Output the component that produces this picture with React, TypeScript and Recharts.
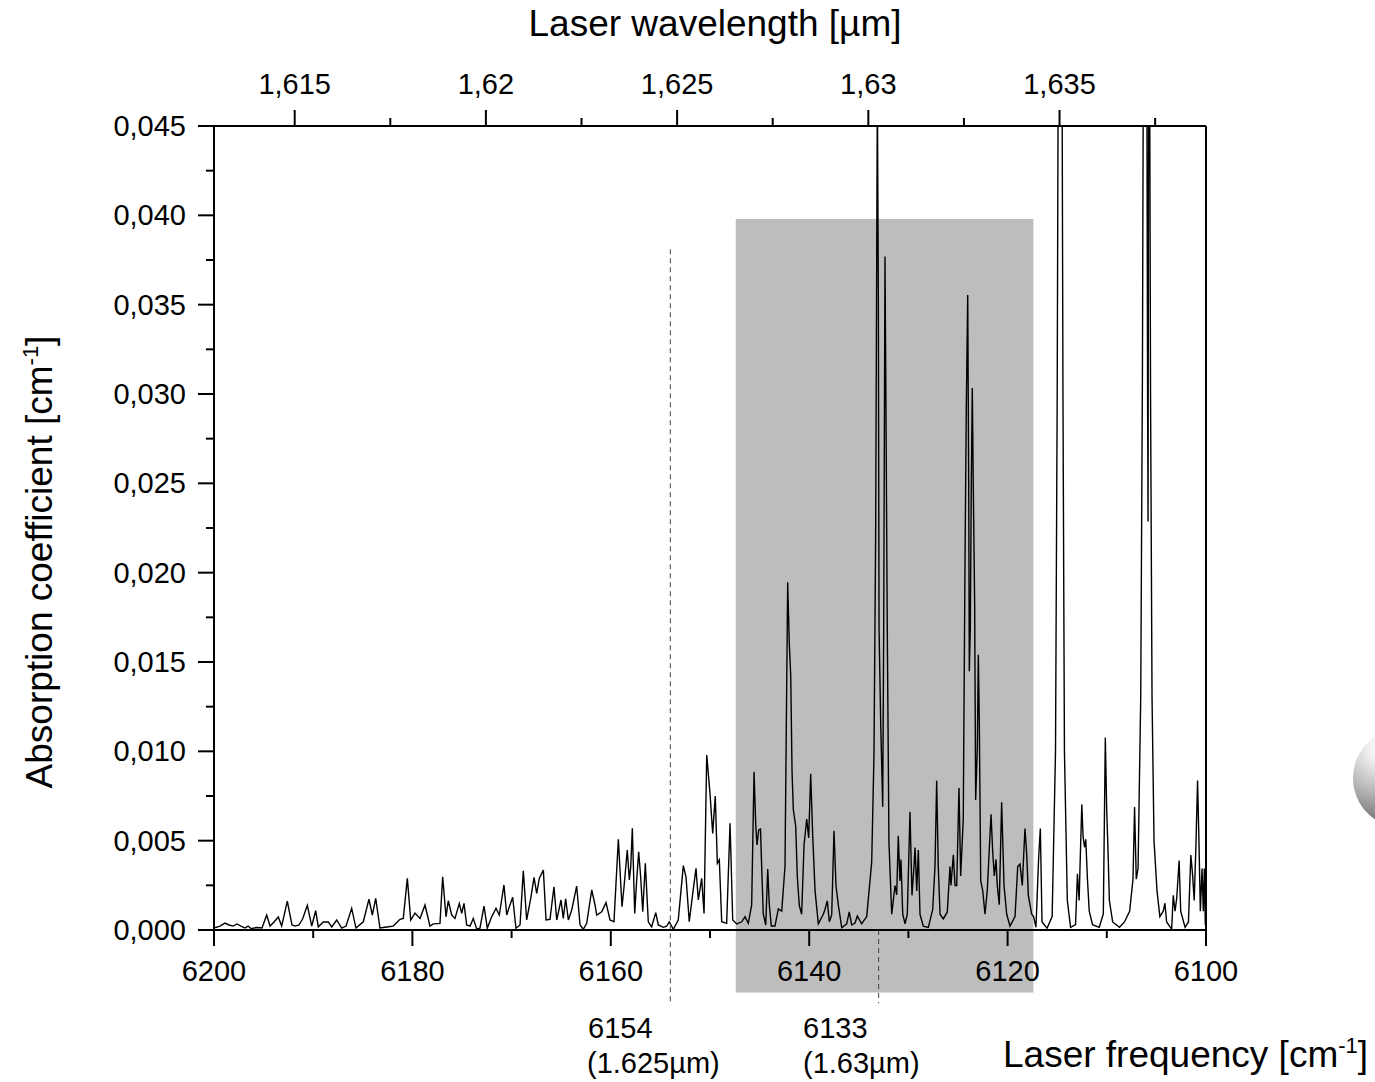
import React from 'react';
import { LineChart, Line, XAxis, YAxis, ReferenceArea, ReferenceLine } from 'recharts';

// ---- data (frequency in cm^-1, absorption in 1e-3 cm^-1) ----
const freqCm = [
  6200.00, 6199.40, 6198.89, 6198.49, 6198.08, 6197.68, 6197.28, 6196.88, 6196.57, 6196.27,
  6195.67, 6195.16, 6194.69, 6194.35, 6193.95, 6193.52, 6193.18, 6192.61, 6192.14, 6191.83,
  6191.43, 6191.06, 6190.59, 6190.15, 6189.75, 6189.49, 6188.98, 6188.48, 6188.13, 6187.63,
  6187.13, 6186.69, 6186.12, 6185.69, 6184.95, 6184.38, 6184.04, 6183.70, 6183.27, 6182.59,
  6181.93, 6181.25, 6180.92, 6180.51, 6180.17, 6179.74, 6179.23, 6178.73, 6178.23, 6177.89,
  6177.22, 6176.95, 6176.61, 6176.38, 6176.04, 6175.71, 6175.27, 6175.03, 6174.80, 6174.53,
  6174.19, 6173.86, 6173.52, 6173.19, 6172.78, 6172.45, 6172.01, 6171.57, 6171.24, 6170.77,
  6170.49, 6170.23, 6169.89, 6169.56, 6169.15, 6168.82, 6168.48, 6168.07, 6167.74, 6167.47,
  6167.21, 6166.80, 6166.53, 6166.13, 6165.73, 6165.45, 6165.02, 6164.79, 6164.55, 6164.28,
  6163.94, 6163.44, 6163.10, 6162.77, 6162.43, 6161.92, 6161.59, 6161.42, 6160.92, 6160.48,
  6160.08, 6159.68, 6159.24, 6158.87, 6158.67, 6158.34, 6158.13, 6157.99, 6157.83, 6157.59,
  6157.39, 6157.19, 6156.99, 6156.78, 6156.52, 6156.22, 6155.88, 6155.47, 6155.21, 6154.71,
  6154.37, 6154.10, 6153.70, 6153.20, 6152.69, 6152.42, 6152.09, 6151.74, 6151.41, 6151.18,
  6150.84, 6150.60, 6150.33, 6150.00, 6149.73, 6149.47, 6149.26, 6149.06, 6148.82, 6148.32,
  6147.98, 6147.71, 6147.31, 6146.80, 6146.47, 6146.14, 6145.80, 6145.56, 6145.39, 6145.26,
  6145.09, 6144.91, 6144.78, 6144.63, 6144.38, 6144.18, 6144.02, 6143.82, 6143.45, 6143.11,
  6142.77, 6142.44, 6142.17, 6142.01, 6141.86, 6141.73, 6141.60, 6141.36, 6141.20, 6141.00,
  6140.76, 6140.52, 6140.25, 6140.05, 6139.85, 6139.65, 6139.41, 6139.08, 6138.58, 6138.41,
  6138.18, 6137.97, 6137.73, 6137.50, 6137.30, 6137.07, 6136.72, 6136.22, 6135.96, 6135.72,
  6135.38, 6135.15, 6134.71, 6134.20, 6133.70, 6133.47, 6133.30, 6133.13, 6133.03, 6132.96,
  6132.79, 6132.59, 6132.49, 6132.36, 6132.26, 6132.13, 6131.96, 6131.68, 6131.35, 6131.18,
  6131.02, 6130.85, 6130.75, 6130.57, 6130.34, 6130.11, 6129.84, 6129.64, 6129.44, 6129.33,
  6129.16, 6129.00, 6128.83, 6128.50, 6127.99, 6127.55, 6127.32, 6127.15, 6126.99, 6126.81,
  6126.48, 6126.08, 6125.81, 6125.71, 6125.47, 6125.30, 6125.13, 6124.90, 6124.73, 6124.47,
  6124.29, 6124.16, 6124.02, 6123.92, 6123.86, 6123.76, 6123.66, 6123.56, 6123.46, 6123.32,
  6123.22, 6123.05, 6122.95, 6122.85, 6122.71, 6122.51, 6122.28, 6122.05, 6121.88, 6121.67,
  6121.50, 6121.34, 6121.17, 6121.04, 6120.84, 6120.60, 6120.36, 6120.09, 6119.76, 6119.25,
  6118.98, 6118.75, 6118.52, 6118.25, 6118.07, 6117.91, 6117.57, 6117.38, 6117.14, 6116.87,
  6116.70, 6116.53, 6116.02, 6115.51, 6115.17, 6115.00, 6114.89, 6114.52, 6114.42, 6114.27,
  6113.98, 6113.65, 6113.15, 6112.96, 6112.79, 6112.69, 6112.52, 6112.39, 6112.25, 6112.12,
  6111.95, 6111.77, 6111.44, 6110.76, 6110.35, 6110.15, 6110.01, 6109.88, 6109.74, 6109.41,
  6108.72, 6108.22, 6107.70, 6107.36, 6107.20, 6107.03, 6106.85, 6106.58, 6106.41, 6106.31,
  6105.97, 6105.89, 6105.84, 6105.78, 6105.69, 6105.59, 6105.44, 6105.24, 6104.94, 6104.65,
  6104.31, 6104.14, 6103.97, 6103.46, 6103.30, 6103.12, 6102.95, 6102.71, 6102.55, 6102.11,
  6101.77, 6101.53, 6101.36, 6101.19, 6101.02, 6100.85, 6100.72, 6100.57, 6100.40, 6100.27,
  6100.17, 6100.07, 6100.00,
];

const absorptionE3 = [
  0.11, 0.22, 0.39, 0.28, 0.22, 0.34, 0.22, 0.11, 0.22, 0.08,
  0.14, 0.11, 0.84, 0.22, 0.45, 0.73, 0.22, 1.62, 0.28, 0.22,
  0.28, 0.63, 1.38, 0.22, 1.08, 0.18, 0.45, 0.45, 0.17, 0.56,
  0.11, 0.22, 1.21, 0.11, 0.46, 1.72, 0.84, 1.77, 0.11, 0.17,
  0.22, 0.60, 0.65, 2.89, 0.56, 0.95, 0.65, 1.40, 0.22, 0.34,
  0.37, 2.98, 0.74, 1.64, 0.84, 0.65, 1.49, 0.93, 1.49, 0.28,
  0.22, 0.65, 0.06, 0.10, 1.34, 0.10, 0.74, 1.21, 0.84, 2.52,
  0.84, 1.30, 1.83, 0.10, 0.28, 3.32, 0.56, 1.77, 2.95, 2.05,
  2.89, 3.36, 0.56, 0.60, 2.42, 0.56, 1.68, 0.65, 1.75, 0.56,
  1.12, 2.46, 0.28, 0.04, 0.37, 2.24, 1.40, 0.84, 1.02, 1.53,
  0.56, 0.46, 5.08, 1.30, 2.39, 4.48, 2.80, 3.54, 5.69, 0.93,
  2.80, 4.38, 2.98, 1.02, 3.73, 0.46, 0.18, 0.97, 0.28, 0.15,
  0.22, 0.46, 0.04, 0.56, 3.60, 2.98, 0.46, 2.05, 3.45, 1.68,
  2.89, 0.93, 9.79, 7.65, 5.41, 7.50, 3.73, 3.92, 0.46, 0.37,
  5.97, 0.56, 0.34, 0.46, 0.74, 0.37, 1.40, 8.86, 5.88, 4.76,
  5.60, 5.65, 3.36, 0.90, 0.28, 3.41, 1.40, 0.22, 0.22, 1.18,
  1.06, 3.55, 19.46, 16.07, 14.20, 8.87, 6.74, 5.82, 2.99, 1.38,
  0.88, 4.76, 6.21, 5.15, 8.75, 5.32, 2.19, 0.34, 0.88, 1.15,
  1.63, 0.46, 0.86, 5.55, 2.49, 1.42, 0.13, 0.35, 1.02, 0.28,
  0.39, 0.78, 0.35, 0.75, 3.81, 9.81, 22.22, 47.00, 35.50, 16.90,
  11.55, 6.90, 16.90, 37.70, 29.10, 16.90, 4.88, 0.88, 2.49, 1.96,
  5.28, 2.75, 3.95, 0.88, 0.35, 0.88, 6.62, 1.94, 3.55, 4.62,
  2.19, 4.48, 0.88, 0.22, 0.14, 1.15, 3.55, 8.35, 3.55, 0.88,
  0.62, 1.01, 3.55, 2.49, 4.21, 2.49, 2.49, 7.95, 3.02, 6.21,
  20.88, 29.40, 35.54, 24.87, 14.48, 16.87, 24.87, 30.34, 24.87, 18.21,
  7.28, 10.21, 15.41, 11.55, 2.75, 2.22, 0.88, 2.22, 4.14, 6.48,
  4.35, 3.02, 3.95, 2.49, 1.42, 7.15, 2.49, 0.88, 0.22, 0.75,
  3.55, 3.69, 2.49, 5.68, 4.21, 1.94, 0.88, 0.75, 0.15, 4.04,
  5.68, 0.45, 0.10, 0.75, 10.00, 30.00, 50.00, 50.00, 30.00, 10.00,
  1.65, 0.15, 0.30, 3.14, 1.65, 3.74, 7.03, 5.23, 4.63, 5.08,
  2.84, 1.05, 0.30, 0.15, 0.90, 10.77, 6.73, 4.49, 1.65, 0.45,
  0.15, 0.45, 1.05, 2.84, 6.88, 2.84, 3.44, 13.01, 30.95, 50.00,
  50.00, 30.00, 22.87, 50.00, 50.00, 30.00, 13.00, 5.00, 2.20, 0.75,
  1.05, 1.50, 0.45, 0.05, 1.94, 1.05, 1.79, 3.89, 1.05, 0.15,
  0.45, 4.19, 3.14, 1.65, 4.63, 8.37, 5.23, 1.05, 3.44, 1.05,
  3.44, 0.30, 0.60,
];

// ---- axes ----
const freqDomain = [6100, 6200];
const freqMajorTicks = [6200, 6180, 6160, 6140, 6120, 6100];
const freqMajorLabels = ['6200', '6180', '6160', '6140', '6120', '6100'];
const freqMinorTicks = [6190, 6170, 6150, 6130, 6110];

const absDomain = [0, 0.045];
const absMajorTicks = [0, 0.005, 0.01, 0.015, 0.02, 0.025, 0.03, 0.035, 0.04, 0.045];
const absMajorLabels = ['0,000', '0,005', '0,010', '0,015', '0,020', '0,025', '0,030', '0,035', '0,040', '0,045'];
const absMinorTicks = [0.0025, 0.0075, 0.0125, 0.0175, 0.0225, 0.0275, 0.0325, 0.0375, 0.0425];

// top axis: linear wavelength scale spanning the plot (as drawn in the reference)
const wlRange = [1.61289, 1.63883];
const wlMajorTicks = [1.615, 1.62, 1.625, 1.63, 1.635];
const wlMajorLabels = ['1,615', '1,62', '1,625', '1,63', '1,635'];
const wlMinorTicks = [1.6175, 1.6225, 1.6275, 1.6325, 1.6375];

// ---- annotations ----
const shadedBand = { fromCm: 6147.4, toCm: 6117.4, top: 0.0398, bottom: -0.0035 };
const markerLines = [
  { cm: 6154, top: 0.0381, label: '6154', sub: '(1.625µm)' },
  { cm: 6133, top: 0.0, label: '6133', sub: '(1.63µm)' },
];
const markerBottom = -0.0041;

const data = freqCm.map((f, i) => ({ f, a: absorptionE3[i] / 1000 }));

// place a wavelength tick on the shared (frequency) plot width
const wlToAxis = (w: number) =>
  freqDomain[1] - ((w - wlRange[0]) / (wlRange[1] - wlRange[0])) * (freqDomain[1] - freqDomain[0]);
const wlMajorPos = wlMajorTicks.map(wlToAxis);
const wlMinorPos = wlMinorTicks.map(wlToAxis);

const FONT = "'Liberation Sans', Arial, Helvetica, sans-serif";
const W = 1375;
const H = 1082;

const findIdx = (arr: number[], v: number) => arr.findIndex((t) => Math.abs(t - v) < 1e-6);

const BottomTick = (props: any) => {
  const { x, y, payload } = props;
  const idx = findIdx(freqMajorTicks, payload.value);
  const major = idx >= 0;
  return (
    <g>
      <line x1={x} x2={x} y1={y} y2={y + (major ? 16 : 8)} stroke="#000" strokeWidth={2} />
      {major && (
        <text x={x} y={y + 51} textAnchor="middle" fontSize={29} fontFamily={FONT} fill="#000">
          {freqMajorLabels[idx]}
        </text>
      )}
    </g>
  );
};

const TopTick = (props: any) => {
  const { x, y, payload } = props;
  const idx = findIdx(wlMajorPos, payload.value);
  const major = idx >= 0;
  return (
    <g>
      <line x1={x} x2={x} y1={y} y2={y - (major ? 16 : 8)} stroke="#000" strokeWidth={2} />
      {major && (
        <text x={x} y={y - 32} textAnchor="middle" fontSize={29} fontFamily={FONT} fill="#000">
          {wlMajorLabels[idx]}
        </text>
      )}
    </g>
  );
};

const LeftTick = (props: any) => {
  const { x, y, payload } = props;
  const idx = findIdx(absMajorTicks, payload.value);
  const major = idx >= 0;
  return (
    <g>
      <line x1={x} x2={x - (major ? 16 : 8)} y1={y} y2={y} stroke="#000" strokeWidth={2} />
      {major && (
        <text x={x - 28} y={y + 10} textAnchor="end" fontSize={29} fontFamily={FONT} fill="#000">
          {absMajorLabels[idx]}
        </text>
      )}
    </g>
  );
};

const sortNum = (a: number[]) => [...a].sort((p, q) => p - q);

export default function App() {
  return (
    <div style={{ position: 'fixed', left: 0, top: 0, width: W, height: H, overflow: 'hidden', background: '#fff' }}>
      <LineChart width={W} height={H} data={data} margin={{ top: 76, right: 169, bottom: 102, left: 114 }}>
        <ReferenceArea
          x1={shadedBand.fromCm}
          x2={shadedBand.toCm}
          y1={shadedBand.bottom}
          y2={shadedBand.top}
          ifOverflow="visible"
          fill="#bdbdbd"
          fillOpacity={1}
          stroke="none"
        />
        <XAxis
          dataKey="f"
          type="number"
          domain={freqDomain}
          reversed
          allowDataOverflow
          ticks={sortNum([...freqMajorTicks, ...freqMinorTicks])}
          interval={0}
          tickSize={0}
          tickMargin={0}
          tickLine={false}
          tick={<BottomTick />}
          axisLine={{ stroke: '#000', strokeWidth: 2 }}
          height={50}
        />
        <XAxis
          xAxisId="wl"
          dataKey="f"
          orientation="top"
          type="number"
          domain={freqDomain}
          reversed
          allowDataOverflow
          ticks={sortNum([...wlMajorPos, ...wlMinorPos])}
          interval={0}
          tickSize={0}
          tickMargin={0}
          tickLine={false}
          tick={<TopTick />}
          axisLine={{ stroke: '#000', strokeWidth: 2 }}
          height={50}
        />
        <YAxis
          type="number"
          domain={absDomain}
          allowDataOverflow
          ticks={sortNum([...absMajorTicks, ...absMinorTicks])}
          interval={0}
          tickSize={0}
          tickMargin={0}
          tickLine={false}
          tick={<LeftTick />}
          axisLine={{ stroke: '#000', strokeWidth: 2 }}
          width={100}
        />
        <Line
          type="linear"
          dataKey="a"
          stroke="#000"
          strokeWidth={1.4}
          dot={false}
          activeDot={false}
          isAnimationActive={false}
        />
        {markerLines.map((m) => (
          <ReferenceLine
            key={m.cm}
            segment={[{ x: m.cm, y: m.top }, { x: m.cm, y: markerBottom }]}
            ifOverflow="visible"
            stroke="#444"
            strokeWidth={1}
            strokeDasharray="5 4"
          />
        ))}
        <ReferenceLine x={6100} stroke="#000" strokeWidth={2} />
      </LineChart>

      <svg
        width={W}
        height={H}
        style={{ position: 'absolute', left: 0, top: 0, pointerEvents: 'none' }}
        fontFamily={FONT}
      >
        <text x={715} y={36} textAnchor="middle" fontSize={37} fill="#000">
          Laser wavelength [µm]
        </text>
        <text transform="translate(52,562) rotate(-90)" textAnchor="middle" fontSize={37} fill="#000">
          Absorption coefficient [cm
          <tspan dy={-14} fontSize={22}>-1</tspan>
          <tspan dy={14}>]</tspan>
        </text>
        <text x={1003} y={1067} fontSize={37} fill="#000">
          Laser frequency [cm
          <tspan dy={-14} fontSize={22}>-1</tspan>
          <tspan dy={14}>]</tspan>
        </text>
        <text x={588} y={1038} fontSize={29} fill="#000">{markerLines[0].label}</text>
        <text x={587} y={1073} fontSize={29} fill="#000">{markerLines[0].sub}</text>
        <text x={803} y={1038} fontSize={29} fill="#000">{markerLines[1].label}</text>
        <text x={803} y={1073} fontSize={29} fill="#000">{markerLines[1].sub}</text>
      </svg>

      <div
        style={{
          position: 'absolute',
          left: 1353,
          top: 728,
          width: 100,
          height: 100,
          borderRadius: '50%',
          background:
            'radial-gradient(circle at 30% 20%, #ffffff 0%, #eeeeee 15%, #bbbbbb 40%, #777777 70%, #333333 100%)',
        }}
      />
    </div>
  );
}
